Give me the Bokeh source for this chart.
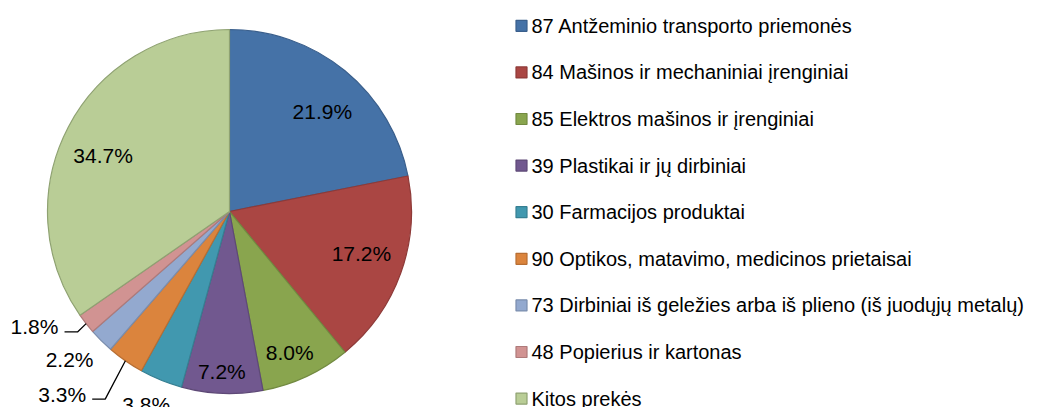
import math
from bokeh.plotting import figure
from bokeh.models import Range1d, ColumnDataSource
from bokeh.core.properties import value
from bokeh.embed import file_html
from bokeh.resources import INLINE

# ---- data ----
categories = [
    "87 Antžeminio transporto priemonės",
    "84 Mašinos ir mechaniniai įrenginiai",
    "85 Elektros mašinos ir įrenginiai",
    "39 Plastikai ir jų dirbiniai",
    "30 Farmacijos produktai",
    "90 Optikos, matavimo, medicinos prietaisai",
    "73 Dirbiniai iš geležies arba iš plieno (iš juodųjų metalų)",
    "48 Popierius ir kartonas",
    "Kitos prekės",
]
shares = [21.9, 17.2, 8.0, 7.2, 3.8, 3.3, 2.2, 1.8, 34.7]
labels = ["21.9%", "17.2%", "8.0%", "7.2%", "3.8%", "3.3%", "2.2%", "1.8%", "34.7%"]

# ---- styles / layout ----
fills = ["#4572A7", "#AA4643", "#89A54E", "#71588F", "#4198AF",
         "#DB843D", "#93A9CF", "#D19392", "#B9CD96"]
edges = ["#3A5F8C", "#8E3A38", "#728A41", "#5E4977", "#367F92",
         "#B76E33", "#7A8DAD", "#AE7A7A", "#8FA272"]
# label placement: (radius factor, angle shift in degrees)
label_place = [(0.75, 3.5), (0.76, -2.2), (0.84, 1.8), (0.88, 0.4), (1.155, 1.2),
               (1.361, 7.6), (1.196, 2.5), (1.245, 7.4), (0.76, -3.6)]
leader_for = {5, 7}

W, H = 1056, 407
CX, CY, R = 229, 196, 182
FONT = "Liberation Sans"

p = figure(width=W, height=H, output_backend="svg", toolbar_location=None,
           x_range=Range1d(0, W), y_range=Range1d(0, H),
           min_border=0, x_axis_location=None, y_axis_location=None)
p.grid.visible = False
p.outline_line_color = None
p.background_fill_color = "white"
p.border_fill_color = "white"

total = sum(shares)
starts, ends, mids = [], [], []
cum = 0.0
for s in shares:
    a = cum / total
    b = (cum + s) / total
    starts.append(math.pi / 2 - 2 * math.pi * b)
    ends.append(math.pi / 2 - 2 * math.pi * a)
    mids.append(360 * (a + b) / 2)
    cum += s

src = ColumnDataSource(dict(start=starts, end=ends, fill=fills, edge=edges))
p.wedge(x=CX, y=CY, radius=R, start_angle="start", end_angle="end",
        fill_color="fill", line_color="edge", line_width=1.2, source=src)

lx, ly = [], []
for i, (rf, dth) in enumerate(label_place):
    th = math.radians(mids[i] + dth)
    lx.append(CX + rf * R * math.sin(th))
    ly.append(CY + rf * R * math.cos(th))
p.text(x=lx, y=ly, text=labels, text_align="center", text_baseline="middle",
       text_font=value(FONT), text_font_size="21px", text_color="#000000")

for i in leader_for:
    th = math.radians(mids[i])
    x0, y0 = CX + R * math.sin(th), CY + R * math.cos(th)
    xs = [x0, lx[i] + 43, lx[i] + 30]
    ys = [y0, ly[i] - 5, ly[i] - 5]
    p.line(xs, ys, line_color="#000000", line_width=1.3)

# legend
n = len(categories)
leg_y = [H - 25.3 - 46.6 * k for k in range(n)]
p.rect(x=[521] * n, y=leg_y, width=11, height=11, width_units="screen",
       height_units="screen", fill_color=fills, line_color=edges, line_width=1.2)
p.text(x=[531] * n, y=leg_y, text=categories, text_align="left",
       text_baseline="middle", text_font=value(FONT), text_font_size="20px",
       text_color="#000000")

open("out.html", "w").write(file_html(p, INLINE))
